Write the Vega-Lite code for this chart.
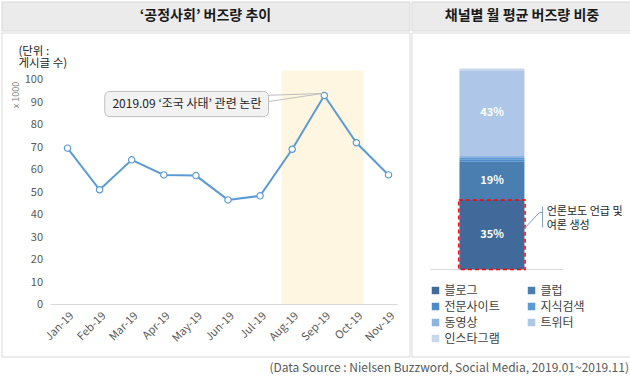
{
  "$schema": "https://vega.github.io/schema/vega-lite/v6.json",
  "background": "white",
  "padding": {"left": 0.5, "top": 0.5, "right": 0.5, "bottom": 2},
  "spacing": 0,
  "config": {
    "font": "Noto Sans CJK KR",
    "view": {"stroke": "#D9D9D9", "strokeWidth": 1},
    "concat": {"spacing": 0},
    "axis": {"labelOverlap": false}
  },
  "title": {
    "text": "(Data Source : Nielsen  Buzzword, Social Media,  2019.01~2019.11)",
    "orient": "bottom",
    "anchor": "end",
    "fontSize": 12,
    "fontWeight": "normal",
    "color": "#595959",
    "offset": 6,
    "dx": -4
  },
  "vconcat": [
    {
      "spacing": 0,
      "hconcat": [
        {
          "width": 408,
          "height": 29,
          "view": {"fill": "#EBEBEB", "stroke": "#D9D9D9"},
          "data": {"values": [{"t": "‘공정사회’ 버즈량 추이"}]},
          "mark": {"type": "text", "fontSize": 14, "fontWeight": "bold", "color": "#1A1A1A"},
          "encoding": {"text": {"field": "t"}}
        },
        {
          "width": 221,
          "height": 29,
          "view": {"fill": "#EBEBEB", "stroke": "#D9D9D9"},
          "data": {"values": [{"t": "채널별 월 평균 버즈량 비중"}]},
          "mark": {"type": "text", "fontSize": 14, "fontWeight": "bold", "color": "#1A1A1A"},
          "encoding": {"text": {"field": "t"}}
        }
      ]
    },
    {
      "spacing": 0,
      "hconcat": [
        {
          "width": 408,
          "height": 324,
          "layer": [
            {
              "data": {"values": [{"period": "2019.08~2019.10"}]},
              "mark": {"type": "rect", "fill": "#FEF6E1"},
              "encoding": {
                "x": {
                  "datum": 7.667,
                  "type": "quantitative",
                  "scale": {"domain": [-1.056, 11.654], "nice": false, "zero": false},
                  "axis": {
                    "values": [1, 2, 3, 4, 5, 6, 7, 8, 9, 10, 11],
                    "labelExpr": "timeFormat(datetime(2019, datum.value - 1, 1), '%b-%y')",
                    "labelAngle": -45,
                    "labelAlign": "right",
                    "labelBaseline": "top",
                    "labelPadding": 5,
                    "labelFontSize": 11,
                    "labelColor": "#595959",
                    "labelOverlap": false,
                    "labelFlush": false,
                    "ticks": false,
                    "domain": false,
                    "grid": false,
                    "offset": -52,
                    "title": null
                  }
                },
                "x2": {"datum": 10.22},
                "y": {
                  "datum": 0,
                  "type": "quantitative",
                  "scale": {"domain": [-23.1, 120.9], "nice": false, "zero": false},
                  "axis": {
                    "values": [0, 10, 20, 30, 40, 50, 60, 70, 80, 90, 100],
                    "tickCount": 11,
                    "offset": -49,
                    "domain": false,
                    "ticks": false,
                    "grid": false,
                    "labelOverlap": false,
                    "labelPadding": 8,
                    "labelFontSize": 11,
                    "labelColor": "#595959",
                    "title": "x 1000",
                    "titleX": -35,
                    "titleY": 62,
                    "titleAngle": -90,
                    "titleAlign": "center",
                    "titleBaseline": "middle",
                    "titleFontSize": 9,
                    "titleFontWeight": "normal",
                    "titleColor": "#7F7F7F"
                  }
                },
                "y2": {"datum": 104}
              }
            },
            {
              "data": {"values": [{"axis": "baseline"}]},
              "mark": {"type": "rule", "color": "#D9D9D9", "strokeWidth": 1},
              "encoding": {
                "x": {"datum": 0.47, "type": "quantitative"},
                "x2": {"datum": 11.28},
                "y": {"datum": 0, "type": "quantitative"}
              }
            },
            {
              "data": {"values": [
                {"month": 1, "buzz": 69.5},
                {"month": 2, "buzz": 51.0},
                {"month": 3, "buzz": 64.3},
                {"month": 4, "buzz": 57.6},
                {"month": 5, "buzz": 57.3},
                {"month": 6, "buzz": 46.5},
                {"month": 7, "buzz": 48.3},
                {"month": 8, "buzz": 69.0},
                {"month": 9, "buzz": 92.9},
                {"month": 10, "buzz": 71.9},
                {"month": 11, "buzz": 57.6}
              ]},
              "encoding": {
                "x": {"field": "month", "type": "quantitative"},
                "y": {"field": "buzz", "type": "quantitative"}
              },
              "layer": [
                {"mark": {"type": "line", "color": "#5B9BD5", "strokeWidth": 2}},
                {"mark": {"type": "point", "filled": true, "fill": "white", "stroke": "#5B9BD5", "strokeWidth": 1.2, "size": 40, "opacity": 1}}
              ]
            },
            {
              "data": {"values": [{"label": "2019.09 ‘조국 사태’ 관련 논란"}]},
              "layer": [
                {
                  "mark": {"type": "rect", "fill": "#F2F2F2", "stroke": "#BFBFBF", "strokeWidth": 1, "cornerRadius": 5},
                  "encoding": {
                    "x": {"datum": 2.16, "type": "quantitative"},
                    "x2": {"datum": 7.262},
                    "y": {"datum": 83.5, "type": "quantitative"},
                    "y2": {"datum": 94.7}
                  }
                },
                {
                  "mark": {"type": "rule", "color": "#BFBFBF", "strokeWidth": 1},
                  "encoding": {
                    "x": {"datum": 7.262, "type": "quantitative"},
                    "x2": {"datum": 8.944},
                    "y": {"datum": 93.0, "type": "quantitative"},
                    "y2": {"datum": 93.8}
                  }
                },
                {
                  "mark": {"type": "rule", "color": "#BFBFBF", "strokeWidth": 1},
                  "encoding": {
                    "x": {"datum": 7.262, "type": "quantitative"},
                    "x2": {"datum": 8.944},
                    "y": {"datum": 90.2, "type": "quantitative"},
                    "y2": {"datum": 93.8}
                  }
                },
                {
                  "mark": {"type": "text", "fontSize": 12, "color": "#262626", "align": "center", "baseline": "middle"},
                  "encoding": {
                    "x": {"datum": 4.72, "type": "quantitative"},
                    "y": {"datum": 89.1, "type": "quantitative"},
                    "text": {"field": "label"}
                  }
                }
              ]
            },
            {
              "data": {"values": [{"unit": "(단위 :\n게시글 수)"}]},
              "mark": {"type": "text", "fontSize": 11.5, "color": "#262626", "align": "left", "baseline": "middle", "lineBreak": "\n", "lineHeight": 12.5},
              "encoding": {
                "x": {"datum": -0.53, "type": "quantitative"},
                "y": {"datum": 112.3, "type": "quantitative"},
                "text": {"field": "unit"}
              }
            }
          ]
        },
        {
          "width": 221,
          "height": 324,
          "layer": [
            {
              "data": {"values": [{"axis": "baseline"}]},
              "mark": {"type": "rule", "color": "#D9D9D9", "strokeWidth": 1},
              "encoding": {
                "x": {"datum": 0.086, "type": "quantitative", "axis": null},
                "x2": {"datum": 0.688},
                "y": {"datum": 0, "type": "quantitative", "axis": null}
              }
            },
            {
              "data": {"name": "channels"},
              "transform": [{"stack": "share", "groupby": [], "as": ["y0", "y1"], "offset": "normalize"}],
              "mark": {"type": "rect"},
              "encoding": {
                "x": {"datum": 0.217, "type": "quantitative", "scale": {"domain": [0, 1], "nice": false, "zero": false}, "axis": null},
                "x2": {"datum": 0.511},
                "y": {"field": "y0", "type": "quantitative", "scale": {"domain": [-0.433, 1.179], "nice": false, "zero": false}, "axis": null},
                "y2": {"field": "y1"},
                "color": {
                  "field": "channel",
                  "type": "nominal",
                  "scale": {
                    "domain": ["블로그", "클럽", "전문사이트", "지식검색", "동영상", "트위터", "인스타그램"],
                    "range": ["#41699A", "#4A7DB0", "#4E8BC9", "#5B9BD5", "#8DB3E0", "#AEC6E7", "#C9D7EC"]
                  },
                  "legend": {
                    "orient": "none",
                    "legendX": 428,
                    "legendY": 283,
                    "columns": 2,
                    "direction": "horizontal",
                    "columnPadding": 25,
                    "rowPadding": 4,
                    "symbolType": "square",
                    "symbolSize": 56,
                    "symbolStrokeWidth": 0,
                    "labelFontSize": 12,
                    "labelColor": "#404040",
                    "labelOffset": 3,
                    "title": null
                  }
                }
              }
            },
            {
              "data": {"name": "channels"},
              "transform": [
                {"stack": "share", "groupby": [], "as": ["y0", "y1"], "offset": "normalize"},
                {"filter": "datum.channel === '블로그'"}
              ],
              "mark": {"type": "rect", "fill": null, "fillOpacity": 0, "stroke": "#FF0000", "strokeWidth": 1.5, "strokeDash": [4, 3]},
              "encoding": {
                "x": {"datum": 0.214, "type": "quantitative", "axis": null},
                "x2": {"datum": 0.514},
                "y": {"field": "y0", "type": "quantitative", "axis": null},
                "y2": {"field": "y1"}
              }
            },
            {
              "data": {"name": "channels"},
              "transform": [
                {"stack": "share", "groupby": [], "as": ["y0", "y1"], "offset": "normalize"},
                {"filter": "datum.share > 0.1"},
                {"fold": ["y0", "y1"]}
              ],
              "mark": {"type": "text", "color": "white", "fontSize": 11, "fontWeight": "bold", "baseline": "middle"},
              "encoding": {
                "x": {"datum": 0.364, "type": "quantitative", "axis": null},
                "y": {"aggregate": "mean", "field": "value", "type": "quantitative", "axis": null},
                "detail": {"field": "channel"},
                "text": {"field": "share", "type": "quantitative", "format": ".0%"}
              }
            },
            {
              "data": {"values": [{"note": "언론보도 언급 및\n여론 생성"}]},
              "layer": [
                {
                  "mark": {"type": "rule", "color": "#7F9FC8", "strokeWidth": 1},
                  "encoding": {
                    "x": {"datum": 0.511, "type": "quantitative", "axis": null},
                    "x2": {"datum": 0.579},
                    "y": {"datum": 0.204, "type": "quantitative", "axis": null},
                    "y2": {"datum": 0.284}
                  }
                },
                {
                  "mark": {"type": "rule", "color": "#7F9FC8", "strokeWidth": 1},
                  "encoding": {
                    "x": {"datum": 0.579, "type": "quantitative", "axis": null},
                    "x2": {"datum": 0.593},
                    "y": {"datum": 0.284, "type": "quantitative", "axis": null}
                  }
                },
                {
                  "mark": {"type": "rule", "color": "#7F9FC8", "strokeWidth": 1},
                  "encoding": {
                    "x": {"datum": 0.593, "type": "quantitative", "axis": null},
                    "y": {"datum": 0.209, "type": "quantitative", "axis": null},
                    "y2": {"datum": 0.313}
                  }
                },
                {
                  "mark": {"type": "text", "fontSize": 11, "color": "#262626", "align": "left", "baseline": "middle", "lineBreak": "\n", "lineHeight": 13.5},
                  "encoding": {
                    "x": {"datum": 0.612, "type": "quantitative", "axis": null},
                    "y": {"datum": 0.284, "type": "quantitative", "axis": null},
                    "text": {"field": "note"}
                  }
                }
              ]
            }
          ]
        }
      ]
    }
  ],
  "datasets": {
    "channels": [
      {"channel": "블로그", "share": 0.346},
      {"channel": "클럽", "share": 0.19},
      {"channel": "전문사이트", "share": 0.012},
      {"channel": "지식검색", "share": 0.007},
      {"channel": "동영상", "share": 0.01},
      {"channel": "트위터", "share": 0.426},
      {"channel": "인스타그램", "share": 0.009}
    ]
  }
}
